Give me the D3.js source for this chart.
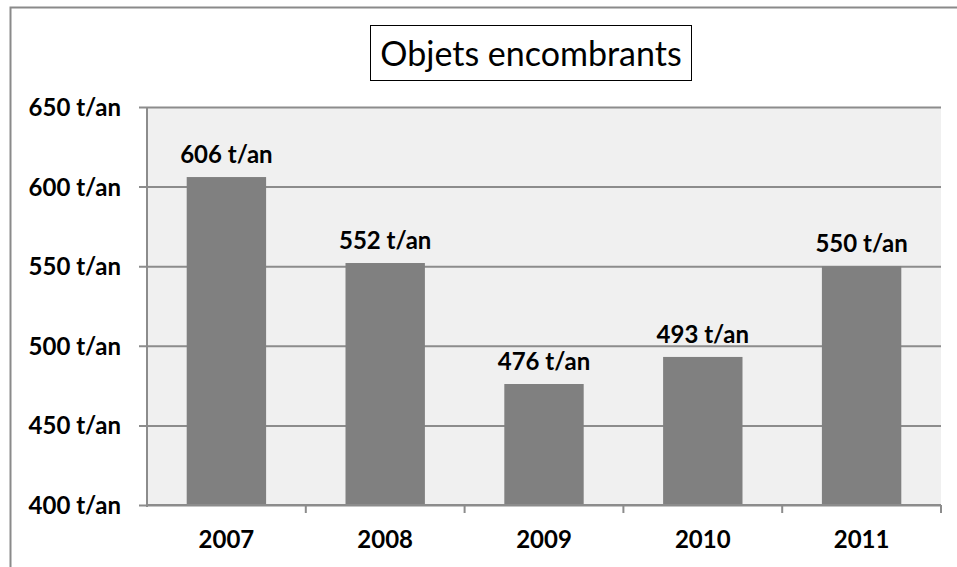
<!DOCTYPE html>
<head>
  <meta charset="utf-8">
  <script src="https://d3js.org/d3.v7.min.js"></script>
  <style>
    body { margin: 0; background: #fff; }
    text { font-family: Lato, "Open Sans", sans-serif; }
  </style>
</head>
<body>
  <div class="chart"></div>
  <script>
    var years = ["2007", "2008", "2009", "2010", "2011"];
    var tonnes = [606, 552, 476, 493, 550];
    var yTicks = [400, 450, 500, 550, 600, 650];
    var title = "Objets encombrants";

    (function() {
      var width = 957,
          height = 567;
      var left = 147, right = 941, top = 107, bottom = 505;

      var svg = d3.select(".chart")
        .append("svg")
        .attr("width", width)
        .attr("height", height);

      // outer chart border (runs off the right and bottom)
      svg.append("rect")
        .attr("x", 10.5).attr("y", 7.5)
        .attr("width", 1000).attr("height", 700)
        .attr("fill", "#fff")
        .attr("stroke", "#8a8a8a")
        .attr("stroke-width", 2);

      var x = d3.scaleBand().domain(years).range([left, right]).paddingInner(0.5).paddingOuter(0.25);
      var xb = d3.scaleBand().domain(years).range([left, right]);
      var y = d3.scaleLinear().domain([400, 650]).range([bottom, top]);

      svg.append("rect")
        .attr("x", left).attr("y", top)
        .attr("width", right - left).attr("height", bottom - top)
        .attr("fill", "#f0f0f0");

      // gridlines + y axis
      var yAxis = d3.axisLeft(y)
        .tickValues(yTicks)
        .tickSize(-(right - left))
        .tickFormat(function(d) { return d + " t/an" });

      var gy = svg.append("g")
        .attr("transform", "translate(" + left + ",0)")
        .call(yAxis);
      gy.select(".domain").remove();
      gy.selectAll(".tick line")
        .attr("x1", -8)
        .attr("stroke", "#8c8c8c")
        .attr("stroke-width", 2);
      gy.selectAll(".tick text")
        .attr("x", -26)
        .attr("dy", "0.35em")
        .attr("font-size", 24)
        .attr("font-weight", "bold")
        .attr("fill", "#000")
        .style("font-family", "Lato, sans-serif");

      svg.append("line")
        .attr("x1", left).attr("x2", left)
        .attr("y1", top).attr("y2", bottom + 2)
        .attr("stroke", "#8c8c8c")
        .attr("stroke-width", 2);

      // bars
      svg.selectAll(".bar")
        .data(tonnes)
        .enter().append("rect")
        .attr("class", "bar")
        .attr("x", function(d, i) { return x(years[i]) })
        .attr("width", x.bandwidth())
        .attr("y", function(d) { return y(d) })
        .attr("height", function(d) { return bottom - y(d) })
        .attr("fill", "#808080");

      svg.selectAll(".lbl")
        .data(tonnes)
        .enter().append("text")
        .attr("class", "lbl")
        .attr("x", function(d, i) { return x(years[i]) + x.bandwidth() / 2 })
        .attr("y", function(d) { return y(d) - 14 })
        .attr("text-anchor", "middle")
        .attr("font-size", 24)
        .attr("font-weight", "bold")
        .text(function(d) { return d + " t/an" });

      // x axis
      svg.append("line")
        .attr("x1", left).attr("x2", right)
        .attr("y1", bottom).attr("y2", bottom)
        .attr("stroke", "#8c8c8c")
        .attr("stroke-width", 2);

      var edges = years.map(function(d) { return xb(d) + xb.bandwidth() });
      svg.selectAll(".xtick")
        .data(edges)
        .enter().append("line")
        .attr("class", "xtick")
        .attr("x1", function(d) { return d }).attr("x2", function(d) { return d })
        .attr("y1", bottom).attr("y2", bottom + 8)
        .attr("stroke", "#8c8c8c")
        .attr("stroke-width", 2);

      svg.selectAll(".year")
        .data(years)
        .enter().append("text")
        .attr("class", "year")
        .attr("x", function(d) { return xb(d) + xb.bandwidth() / 2 })
        .attr("y", 548)
        .attr("text-anchor", "middle")
        .attr("font-size", 24)
        .attr("font-weight", "bold")
        .text(function(d) { return d });

      // title box
      svg.append("rect")
        .attr("x", 370.5).attr("y", 25.5)
        .attr("width", 321).attr("height", 55)
        .attr("fill", "#fff")
        .attr("stroke", "#000")
        .attr("stroke-width", 1);

      svg.append("text")
        .attr("x", 531)
        .attr("y", 66)
        .attr("text-anchor", "middle")
        .attr("font-size", 34)
        .text(title);
    })();
  </script>
</body>
